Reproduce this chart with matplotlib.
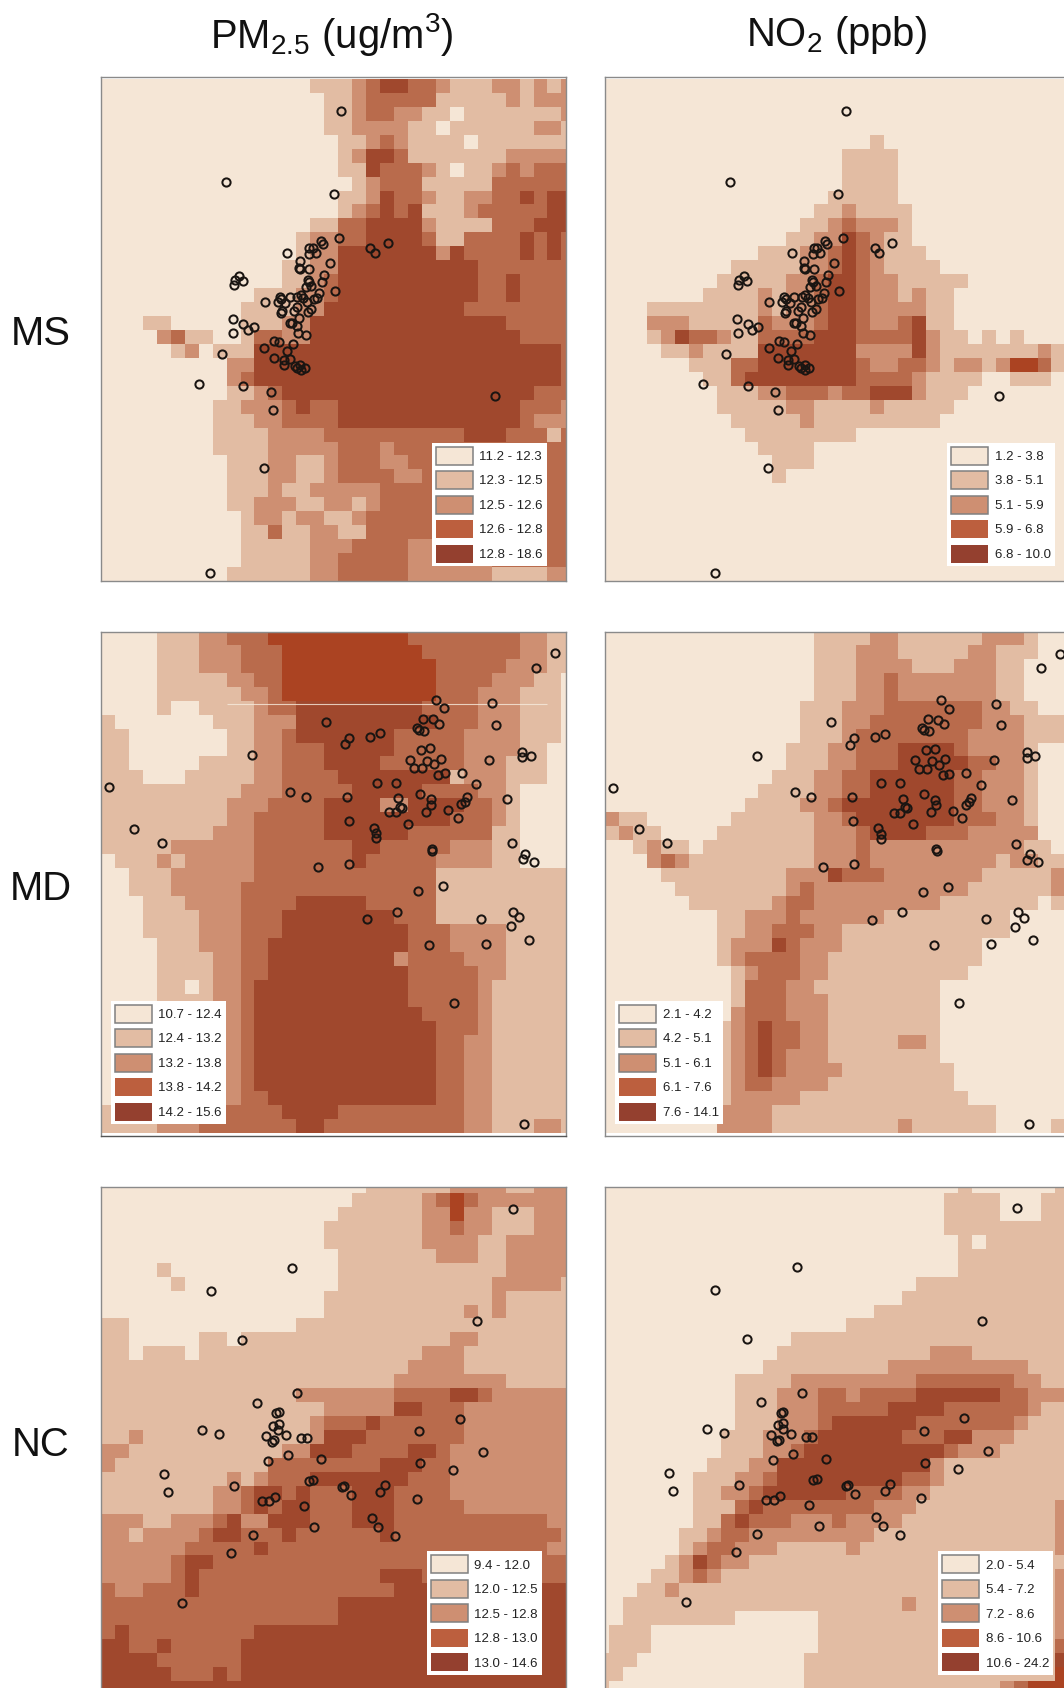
import matplotlib
matplotlib.use("Agg")
import matplotlib.pyplot as plt
import numpy as np
from matplotlib.colors import ListedColormap, BoundaryNorm
from matplotlib.patches import Patch

plt.rcParams['font.family'] = ['Liberation Sans', 'DejaVu Sans']
plt.rcParams['mathtext.default'] = 'regular'
plt.rcParams['mathtext.fontset'] = 'custom'
plt.rcParams['mathtext.rm'] = 'Liberation Sans'

row_names = ['MS', 'MD', 'NC']
col_titles = [r'PM$_{2.5}$ (ug/m$^3$)', r'NO$_2$ (ppb)']

# Each row of a map: "class@last column" runs.
MS_PM = """0@14 1@17 2@18 3@19 4@21 3@23 2@24 1@27 2@29 1@30 2@31 1@32 2@33
0@15 1@17 2@18 3@23 1@28 2@29 1@30 2@33
0@15 1@17 2@18 3@20 2@22 1@24 0@25 1@32 2@33
0@15 1@17 2@21 1@23 0@24 1@30 2@32 1@33
0@16 1@18 2@19 3@20 2@21 1@25 0@26 1@33
0@16 1@17 2@18 4@20 3@21 1@28 2@33
0@16 1@18 4@19 3@22 2@23 1@24 0@25 1@27 2@28 3@29 2@30 3@33
0@17 1@18 2@19 3@22 1@27 3@33
0@16 1@18 2@19 4@20 3@22 2@23 1@25 2@27 3@29 4@30 3@31 4@33
0@16 1@17 2@18 3@19 4@20 3@21 4@22 1@25 2@26 3@31 4@33
0@14 1@16 3@18 4@22 2@23 1@27 3@30 4@33
0@13 1@14 2@16 3@18 4@22 3@23 1@25 3@29 4@30 3@31 4@32 3@33
0@13 1@14 2@16 4@23 2@24 4@25 3@29 4@30 3@31 4@32 3@33
0@12 1@14 2@16 4@26 3@33
0@12 1@14 2@15 3@16 4@26 3@28 4@29 3@33
0@10 1@13 2@15 3@16 4@26 3@28 4@29 3@33
0@9 1@13 2@15 4@25 3@33
0@2 1@4 0@9 1@12 2@14 4@28 3@33
0@3 2@4 3@5 1@7 0@9 1@10 3@12 2@14 4@29 3@33
0@4 1@5 2@6 0@7 1@10 4@32 3@33
0@8 2@10 4@32 3@33
0@8 2@9 3@10 4@32 3@33
0@8 1@10 2@11 3@12 4@30 3@33
0@7 1@9 2@12 3@13 4@14 3@16 4@29 3@32 2@33
0@7 1@10 2@12 3@16 4@29 3@30 2@33
0@7 1@11 2@15 3@25 4@28 3@31 1@32 3@33
0@7 1@11 2@16 3@19 2@20 3@33
0@8 1@11 2@13 1@15 2@16 3@19 2@21 3@33
0@8 1@11 2@13 1@15 2@16 3@20 2@22 3@33
0@8 1@11 2@12 1@14 2@19 3@33
0@8 1@10 2@13 1@15 2@17 1@18 2@19 3@33
0@9 1@10 2@12 1@13 2@15 1@17 2@18 3@33
0@9 1@11 3@12 1@14 2@16 1@18 3@33
0@9 1@14 2@17 3@21 2@23 3@33
0@9 1@14 2@16 3@21 2@27 3@33
0@8 1@14 2@16 3@21 2@27 1@31 2@33""".split("\n")

MS_NO2 = """0@33
0@33
0@33
0@33
0@18 1@19 0@33
0@16 1@20 0@33
0@16 1@20 0@33
0@16 1@20 0@33
0@15 1@20 0@33
0@14 1@16 2@17 1@21 0@33
0@13 1@15 2@16 3@17 2@20 1@21 0@33
0@12 1@14 2@16 4@17 3@18 2@19 1@21 0@33
0@10 1@13 2@15 3@16 4@17 3@18 2@19 1@22 0@33
0@8 1@13 2@15 3@16 4@17 3@18 2@19 1@23 0@33
0@7 1@12 2@14 3@15 4@17 3@18 2@20 1@25 0@33
0@6 1@10 2@11 1@12 2@14 3@15 4@17 3@18 2@20 1@21 2@22 1@24 0@33
0@2 1@10 2@11 1@12 2@14 3@15 4@17 3@18 2@22 1@24 0@33
0@2 2@5 1@10 3@11 2@14 3@15 4@17 3@18 2@20 3@21 4@22 1@24 0@33
0@2 1@3 2@4 4@5 3@7 2@8 1@10 3@14 4@17 3@21 4@22 2@23 1@25 0@26 1@27 0@28 1@29 0@33
0@3 1@5 2@6 1@10 4@17 2@21 4@22 2@23 1@30 2@31 1@33
0@5 1@8 3@10 4@17 3@18 2@20 3@22 2@23 1@24 2@26 1@27 2@28 5@30 3@31 1@33
0@6 1@8 3@9 4@17 3@21 2@22 1@26 0@28 1@31 0@33
0@7 1@10 2@12 3@15 2@16 3@18 4@21 2@22 1@25 0@33
0@7 1@12 2@14 1@18 2@19 1@24 0@33
0@8 1@13 2@14 1@23 0@33
0@9 1@17 0@33
0@10 1@14 0@33
0@11 1@14 0@33
0@11 1@12 0@33
0@33
0@33
0@33
0@33
0@33
0@33
0@33""".split("\n")

MD_PM = """0@3 1@6 2@8 3@11 5@21 3@29 2@31 1@33
0@3 1@6 2@9 3@12 5@22 3@29 2@31 1@33
0@3 1@6 2@9 3@12 5@23 3@28 2@31 1@33
0@3 1@8 2@10 3@12 5@23 3@27 2@30 1@32 0@33
0@3 1@9 2@11 3@12 5@23 3@26 2@29 1@32 0@33
0@3 1@4 0@6 1@10 2@11 3@13 4@22 3@26 2@29 1@32 0@33
1@0 0@7 1@10 2@13 4@23 3@26 2@29 1@32 0@33
1@1 0@8 1@10 2@12 3@13 4@20 3@25 2@29 1@32 0@33
1@1 0@8 1@10 2@12 3@15 4@20 3@25 2@29 1@31 0@33
1@1 0@6 1@10 2@12 3@15 4@19 3@25 2@28 1@31 0@33
1@2 0@5 1@10 2@12 3@16 4@24 1@25 2@28 1@31 0@33
1@9 2@12 3@17 4@22 3@26 2@28 1@29 0@33
1@8 2@11 3@15 4@19 2@21 4@25 3@27 2@28 1@29 0@33
1@8 2@10 3@15 4@24 3@27 2@28 1@29 0@33
1@7 2@10 3@15 4@21 3@27 1@29 0@33
1@4 2@10 3@17 4@19 3@24 2@27 1@29 0@33
0@0 1@3 2@4 1@5 2@10 3@17 4@18 3@23 2@27 1@29 0@33
0@1 1@4 2@10 3@23 1@33
0@1 1@4 2@9 3@23 1@33
0@2 1@5 2@9 3@13 4@18 3@23 1@33
0@2 1@6 2@9 3@12 4@20 3@23 1@33
0@2 1@6 2@9 3@12 4@21 3@24 2@28 1@33
0@3 1@6 2@9 3@11 4@21 3@24 2@28 1@33
0@3 1@7 2@9 3@11 4@20 2@21 3@25 2@28 1@33
0@3 1@7 2@9 3@11 4@21 3@26 2@28 1@33
0@3 1@5 0@6 1@7 2@9 3@10 4@21 3@26 2@27 1@33
0@3 1@7 2@9 3@10 4@21 3@26 2@27 1@33
0@3 1@7 2@9 3@10 4@22 3@26 2@27 1@33
0@3 1@7 2@9 3@10 4@23 3@26 2@27 1@33
0@3 1@7 2@9 3@10 4@23 3@25 2@27 1@33
0@3 1@7 2@9 3@10 4@23 3@25 2@27 1@33
0@3 1@7 2@9 3@10 4@23 3@25 2@27 1@33
0@3 1@7 2@9 3@10 4@23 3@25 2@27 1@33
0@3 1@7 2@9 3@11 4@23 3@25 2@27 1@33
1@3 2@6 3@12 4@16 3@25 2@27 1@33
1@3 2@6 3@13 4@15 3@25 2@27 1@30 2@32 1@33""".split("\n")

MD_NO2 = """0@14 1@18 2@20 1@26 2@29 1@30 0@33
0@14 1@17 2@20 1@25 2@27 1@30 0@33
0@14 1@17 2@21 1@24 2@27 1@29 0@33
0@14 1@17 2@19 3@20 2@27 1@29 0@33
0@14 1@17 2@19 3@20 2@27 1@29 0@33
0@13 1@16 2@19 3@26 2@28 1@30 0@33
0@13 1@16 2@18 3@26 2@29 1@32 0@33
0@13 1@16 2@17 3@25 2@29 1@32 0@33
0@12 1@15 2@17 3@20 4@24 3@25 2@29 1@30 0@33
0@12 1@15 2@17 3@20 4@25 3@27 2@29 1@30 0@33
0@11 1@14 2@16 3@18 4@24 3@26 2@29 1@30 0@33
0@10 1@14 2@16 3@18 4@24 3@26 2@29 1@30 0@33
0@9 1@13 2@15 3@16 4@24 3@26 2@29 1@30 0@33
2@0 1@2 0@8 1@14 2@16 3@17 4@24 3@27 2@29 1@30 0@33
1@0 2@1 1@3 0@7 1@14 2@17 3@18 4@22 3@25 2@30 0@33
0@1 1@2 2@3 1@5 0@6 1@14 2@17 3@18 2@29 1@31 0@33
0@2 2@3 3@4 2@5 1@14 2@17 3@18 2@27 1@28 2@30 1@33
0@3 1@12 2@15 4@16 3@19 2@26 1@31 2@33
0@4 1@12 2@13 3@14 2@25 1@31 2@33
0@5 1@11 2@12 3@14 2@23 1@30 0@31 1@33
0@7 1@9 2@12 3@13 2@19 1@28 0@33
0@7 1@9 2@11 3@14 2@16 1@28 0@33
0@7 1@8 2@11 4@12 3@13 2@16 1@26 0@33
0@7 1@8 2@9 3@13 2@15 1@26 0@33
0@8 1@9 2@10 3@13 2@15 1@25 0@33
0@8 1@9 3@12 2@14 1@23 0@33
0@8 1@9 3@12 2@15 1@23 0@33
0@8 2@9 3@12 2@15 1@23 0@33
0@7 1@8 2@9 3@10 4@11 3@13 2@15 1@23 0@33
0@7 1@8 2@9 3@10 4@11 3@13 2@15 1@20 2@22 1@23 0@33
0@7 1@8 2@9 3@10 4@11 3@12 2@15 1@23 0@33
0@7 1@8 2@9 3@10 4@11 3@12 2@16 1@24 0@33
0@7 1@8 2@9 3@11 2@15 1@24 0@33
0@7 1@8 2@13 1@25 0@33
0@7 2@11 1@27 0@33
0@7 2@11 1@20 2@21 1@27 0@31 1@33""".split("\n")

NC_PM = """0@18 1@24 2@28 1@30 2@33
0@17 1@22 2@23 3@24 5@25 3@26 2@33
0@16 1@22 2@24 5@25 2@27 1@30 2@33
0@15 1@22 2@24 3@25 2@27 1@30 2@33
0@15 1@22 2@26 1@28 2@33
0@16 1@23 2@26 1@28 2@33
0@3 1@4 0@16 1@28 2@33
0@4 1@5 0@16 1@27 2@32 1@33
0@15 1@27 2@28 1@33
0@15 1@25 2@26 1@27 2@28 1@33
1@1 0@13 1@33
1@1 0@6 1@8 0@9 1@24 2@26 1@33
1@1 0@2 1@5 0@6 1@22 2@25 1@33
1@21 2@25 1@33
1@20 2@28 1@33
1@13 2@20 3@24 4@26 3@27 2@33
1@15 2@20 4@22 3@25 2@33
1@14 2@15 3@18 4@19 3@25 2@33
1@1 2@2 1@14 2@15 4@18 3@25 2@33
2@1 1@12 2@14 4@17 3@21 4@23 3@24 2@33
2@0 1@11 3@19 4@22 3@24 2@33
1@8 2@9 1@10 2@11 3@14 4@21 3@24 2@33
1@7 2@9 3@10 4@12 3@13 4@14 3@17 4@20 3@24 2@33
1@7 2@9 3@10 4@11 3@12 4@14 3@17 4@20 3@25 2@33
2@2 1@4 2@7 3@8 4@9 2@11 4@14 3@17 4@20 3@31 2@33
2@1 1@2 2@6 3@7 4@9 3@12 4@13 3@19 4@20 3@32 2@33
2@5 3@10 4@11 3@31 2@33
2@4 3@5 4@7 3@33
2@4 3@5 4@6 3@19 4@22 3@33
3@0 2@2 3@5 4@6 3@20 4@33
3@16 4@33
3@16 4@33
3@0 4@1 3@10 4@33
4@1 3@3 4@4 3@9 4@33
4@3 3@9 4@33
4@4 3@7 4@8 3@9 4@33
4@33""".split("\n")

NC_NO2 = """0@25 1@26 0@32 1@33
0@24 1@28 0@31 1@33
0@24 1@28 0@31 1@33
0@24 1@33
0@25 1@26 0@27 1@33
0@25 1@33
0@25 1@33
0@22 1@33
0@21 1@33
0@19 1@33
0@17 1@33
0@13 1@33
0@12 1@23 2@26 1@33
0@11 1@20 2@30 1@33
0@9 1@13 2@22 3@29 2@31 1@33
0@9 1@12 2@15 3@17 2@18 3@22 4@28 3@30 2@33
0@9 1@12 2@15 3@20 4@24 3@30 2@31 1@33
0@9 1@12 2@15 3@16 4@22 3@29 2@30 1@33
0@8 1@11 2@14 3@15 4@21 3@24 4@26 2@29 1@33
0@8 1@11 2@13 3@14 4@24 3@25 2@28 1@33
0@7 1@10 2@12 4@23 2@24 1@33
0@6 1@9 2@11 3@12 4@21 3@23 2@24 1@33
0@6 1@8 2@10 3@11 4@17 3@21 2@23 1@33
0@6 1@9 3@10 4@11 3@19 2@22 1@32 2@33
0@6 1@8 3@9 4@10 3@13 2@16 3@17 2@21 1@32 2@33
0@5 1@7 2@8 3@10 2@19 1@32 2@33
0@5 1@6 2@7 3@9 2@12 1@17 2@18 1@32 2@33
0@4 1@5 2@6 4@7 3@8 2@10 1@33
0@3 1@5 2@6 3@7 2@8 1@32 2@33
0@2 1@4 2@5 1@32 2@33
0@1 1@21 2@22 1@32 2@33
0@1 1@9 0@15 1@32 2@33
0@0 1@3 0@15 1@32 2@33
0@0 1@3 0@15 1@32 3@33
1@2 0@14 1@32 4@33
1@1 0@14 1@32 5@33
1@0 0@14 1@28 2@29 3@30 5@33""".split("\n")

MS_x = [754,408,731,592,747,894,841,854,692,698,658,669,657,678,630,719,628,631,658,702,696,653,656,647,664,448,435,458,432,735,688,682,672,570,574,563,600,622,632,640,650,525,586,575,620,612,664,653,572,428,460,492,473,430,626,606,600,620,625,648,553,568,608,523,590,395,552,582,600,582,615,631,645,633,620,326,460,543,550,1215,522,361]
MS_y = [123,336,373,549,505,518,535,548,514,521,535,535,552,550,573,578,595,598,597,614,636,629,636,650,648,619,629,632,645,662,670,685,688,680,688,695,682,680,676,685,695,695,700,722,710,724,716,727,730,748,763,770,781,790,744,758,760,767,788,794,814,815,822,834,843,852,865,870,867,886,888,885,895,900,895,941,947,966,1020,978,1195,1510]
MD_x = [1396,1338,1038,1063,1205,708,1000,1030,1047,1218,982,988,1002,778,870,841,766,993,1021,487,1296,1297,1322,961,1012,1052,1032,1198,972,997,1045,1064,1115,56,860,917,1158,600,649,772,989,925,1022,1130,1124,1113,1251,1023,930,936,897,917,1008,1075,1103,133,776,954,851,858,858,217,1265,1025,1026,1305,1298,1331,684,777,1060,984,921,832,1173,1270,1288,1262,1316,1018,1188,1093,1302]
MD_y = [85,129,225,250,235,290,281,283,296,300,308,315,318,338,325,335,358,374,370,391,380,397,392,405,407,402,418,405,430,430,450,445,444,487,474,473,478,500,515,515,506,520,523,517,530,538,523,540,545,548,562,562,561,556,578,611,587,597,608,625,640,653,655,672,678,686,703,711,725,716,784,799,861,883,881,861,877,904,945,959,956,1134,1496]
NC_x = [1268,607,362,1162,457,622,500,558,566,1109,566,550,564,337,387,988,528,589,552,546,634,652,1180,594,534,693,990,1090,223,668,656,885,755,761,433,870,235,782,555,515,538,980,642,845,672,864,915,488,423,275]
NC_y = [87,263,332,424,479,640,669,700,697,716,732,737,750,750,761,754,767,764,781,785,773,773,816,825,842,838,850,870,881,899,903,915,920,917,918,936,936,945,950,962,963,956,978,1014,1040,1041,1068,1064,1118,1269]

legend_MS_PM = ['11.2 - 12.3', '12.3 - 12.5', '12.5 - 12.6', '12.6 - 12.8', '12.8 - 18.6']
legend_MS_NO2 = ['1.2 - 3.8', '3.8 - 5.1', '5.1 - 5.9', '5.9 - 6.8', '6.8 - 10.0']
legend_MD_PM = ['10.7 - 12.4', '12.4 - 13.2', '13.2 - 13.8', '13.8 - 14.2', '14.2 - 15.6']
legend_MD_NO2 = ['2.1 - 4.2', '4.2 - 5.1', '5.1 - 6.1', '6.1 - 7.6', '7.6 - 14.1']
legend_NC_PM = ['9.4 - 12.0', '12.0 - 12.5', '12.5 - 12.8', '12.8 - 13.0', '13.0 - 14.6']
legend_NC_NO2 = ['2.0 - 5.4', '5.4 - 7.2', '7.2 - 8.6', '8.6 - 10.6', '10.6 - 24.2']

map_colors = ['#F5E6D6', '#E2BCA3', '#CE8F72', '#B96B4C', '#A0482D', '#AB4322']
key_colors = ['#F5E6D6', '#E2BCA3', '#CE8F72', '#BC5F3E', '#94402F']
key_edges = ['#808080', '#808080', '#808080', 'none', 'none']

CELL = 41.8
W, H = 1064, 1688
cmap = ListedColormap(map_colors)
norm = BoundaryNorm(np.arange(-0.5, 6), cmap.N)


def expand(rows):
    out = []
    for row in rows:
        cells = []
        for run in row.split():
            value, last = run.split('@')
            cells += [int(value)] * (int(last) + 1 - len(cells))
        out.append(cells)
    return np.array(out)


# crop origin (px) and crop-space window of every panel, grid origin, legend corner
panels = [
    (MS_PM, 90, 70, (32, 1428, 1533, 20), (32, 27), legend_MS_PM, (1025, 1118), MS_x, MS_y, 0, 0),
    (MS_NO2, 596, 70, (26, 1404, 1533, 20), (26, 27), legend_MS_NO2, (1054, 1118), MS_x, MS_y, -5, 0),
    (MD_PM, 90, 625, (32, 1428, 1533, 20), (32, 20), legend_MD_PM, (62, 1127), MD_x, MD_y, 0, 0),
    (MD_NO2, 596, 625, (26, 1404, 1533, 20), (26, 20), legend_MD_NO2, (58, 1127), MD_x, MD_y, -4, 1),
    (NC_PM, 90, 1180, (32, 1428, 1524, 22), (32, -1.8), legend_NC_PM, (1010, 1114), NC_x, NC_y, 0, 0),
    (NC_NO2, 596, 1180, (28, 1404, 1524, 22), (-1, -1.8), legend_NC_NO2, (1026, 1114), NC_x, NC_y, -4.5, -2),
]

fig = plt.figure(figsize=(W / 100, H / 100), dpi=100, facecolor='white')

for rows, ox, oy, (x0, x1, y1, y0), (gx, gy), labels, (lx, ly), px, py, dx, dy in panels:
    left, right = ox + x0 / 3, min(ox + x1 / 3, W)
    top, bottom = oy + y0 / 3, min(oy + y1 / 3, H)
    ax = fig.add_axes([left / W, 1 - bottom / H, (right - left) / W, (bottom - top) / H])
    grid = expand(rows)
    ax.imshow(grid, cmap=cmap, norm=norm, interpolation='nearest', aspect='auto',
              extent=(gx, gx + CELL * grid.shape[1], gy + CELL * grid.shape[0], gy), zorder=1)
    ax.plot(np.array(px) + dx, np.array(py) + dy, ls='none', marker='o', ms=5.9, mfc='none',
            mec='#1a1512', mew=1.45, zorder=3, clip_on=True)
    ax.set_xlim(x0, x1)
    ax.set_ylim(y1, y0)
    ax.set_xticks([])
    ax.set_yticks([])
    for name, spine in ax.spines.items():
        spine.set_color('#8a8a8a')
        spine.set_linewidth(1.0)
    if x1 == 1404:
        ax.spines['right'].set_visible(False)
    if y1 == 1524:
        ax.spines['bottom'].set_visible(False)
    if rows is MD_PM:
        # pale scan seam visible in the source image
        ax.hlines(236, 410, 1370, color='#F7EBDD', lw=0.8, alpha=0.8, zorder=2)
        ax.spines['bottom'].set_color('#555555')
    handles = [Patch(facecolor=c, edgecolor=e, linewidth=1.1) for c, e in zip(key_colors, key_edges)]
    leg = ax.legend(handles, labels, loc='upper left', bbox_to_anchor=(lx, ly),
                    bbox_transform=ax.transData, borderaxespad=0, fontsize=9.5,
                    handlelength=2.8, handleheight=1.71, labelspacing=0.5,
                    handletextpad=0.5, borderpad=0.3, fancybox=False, framealpha=1,
                    facecolor='white', edgecolor='none', labelcolor='#222222')
    leg.set_zorder(5)

for title, cx in zip(col_titles, [332, 836]):
    fig.text(cx / W, 1 - 35 / H, title, ha='center', va='center', fontsize=28.8, color='#111111')
for name, cy in zip(row_names, [334, 889, 1445]):
    fig.text(41 / W, 1 - cy / H, name, ha='center', va='center', fontsize=28.8, color='#111111')

fig.savefig('out.png', dpi=100, facecolor='white')
